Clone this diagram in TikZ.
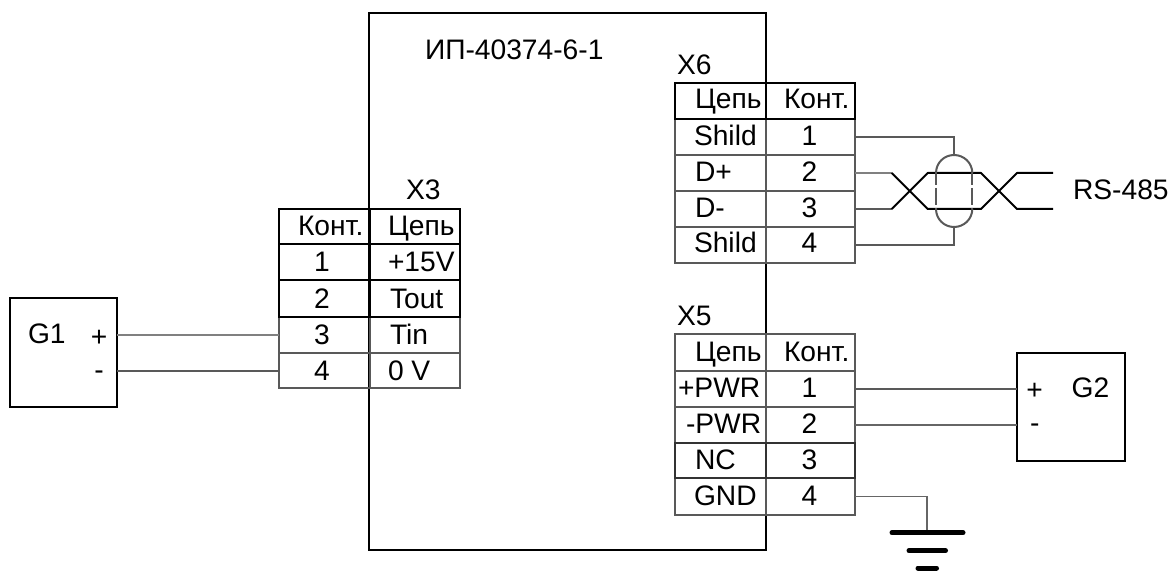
\documentclass[tikz,border=0pt]{standalone}
\usepackage{fontspec}
\setmainfont{Liberation Sans}
\colorlet{wiregray}{black!65}
\colorlet{lightgray2}{black!50}
\newcommand{\cellbox}[6]{%
  \pgfmathsetmacro{\cw}{#5-#3}\pgfmathsetmacro{\ch}{#6-#4}%
  \pgfmathsetmacro{\cx}{(#3+#5)/2}\pgfmathsetmacro{\cy}{(#4+#6)/2}%
  \node[cellbox,draw=#2,minimum width=\cw pt,minimum height=\ch pt] (#1) at (\cx,\cy) {};}
\tikzset{
  x=1pt,y=-1pt,
  cellbox/.style={rectangle,inner sep=0pt,outer sep=0pt,line width=2pt},
  tl/.style={inner sep=0pt,outer sep=0pt,anchor=base west,yshift=-1pt,font=\fontsize{28.2}{30}\selectfont},
  tc/.style={inner sep=0pt,outer sep=0pt,anchor=base,yshift=-1pt,font=\fontsize{28.2}{30}\selectfont},
  devbox/.style={rectangle,draw=black,line width=2pt,inner sep=0pt,outer sep=0pt},
  wire/.style={draw=wiregray,line width=2pt,line join=miter},
  lightwire/.style={draw=lightgray2,line width=1.7pt},
  twist/.style={draw=black,line width=2pt,line join=round},
  gndbar/.style={draw=black,line width=5pt,line cap=round},
}
\begin{document}
\begin{tikzpicture}
\useasboundingbox (0,0) rectangle (1170,572);
% main unit
\node[devbox,minimum width=397pt,minimum height=537pt] (unit) at (567.5,281.5) {};
\node[tl] (unittitle) at (425,59) {ИП-40374-6-1};

% X6 table
\node[tl] (x6t) at (677,74) {X6};
\cellbox{x6s1}{wiregray}{675}{119}{765.5}{155}\cellbox{x6p1}{wiregray}{765.5}{119}{855}{155}
\cellbox{x6s2}{wiregray}{675}{155}{765.5}{191}\cellbox{x6p2}{wiregray}{765.5}{155}{855}{191}
\cellbox{x6s3}{wiregray}{675}{191}{765.5}{227}\cellbox{x6p3}{wiregray}{765.5}{191}{855}{227}
\cellbox{x6s4}{wiregray}{675}{227}{765.5}{262.5}\cellbox{x6p4}{wiregray}{765.5}{227}{855}{262.5}
\cellbox{x6hs}{black}{675}{83}{765.5}{119}\cellbox{x6hp}{black}{765.5}{83}{855}{119}
\node[tl] (x6a0) at (695,108) {Цепь};
\node[tl] (x6b0) at (784,108) {Конт.};
\node[tl] (x6a1) at (694,145) {Shild};
\node[tc] (x6b1) at (809.5,145) {1};
\node[tl] (x6a2) at (695,181) {D+};
\node[tc] (x6b2) at (809.5,181) {2};
\node[tl] (x6a3) at (695,217) {D-};
\node[tc] (x6b3) at (809.5,217) {3};
\node[tl] (x6a4) at (694,252) {Shild};
\node[tc] (x6b4) at (809.5,252) {4};

% X3 table
\node[tl] (x3t) at (406,199) {X3};
\cellbox{x3p3}{wiregray}{279}{316.7}{369.5}{353}\cellbox{x3s3}{wiregray}{369.5}{316.7}{459.5}{353}
\cellbox{x3p4}{wiregray}{279}{353}{369.5}{388}\cellbox{x3s4}{wiregray}{369.5}{353}{459.5}{388}
\cellbox{x3hp}{black}{279}{209}{369.5}{244.5}\cellbox{x3hs}{black}{369.5}{209}{459.5}{244.5}
\cellbox{x3p1}{black}{279}{244.5}{369.5}{280}\cellbox{x3s1}{black}{369.5}{244.5}{459.5}{280}
\cellbox{x3p2}{black}{279}{280}{369.5}{316.7}\cellbox{x3s2}{black}{369.5}{280}{459.5}{316.7}
\node[tl] (x3a0) at (298,235) {Конт.};
\node[tl] (x3b0) at (388,235) {Цепь};
\node[tc] (x3a1) at (322,270) {1};
\node[tl] (x3b1) at (388,270) {+15V};
\node[tc] (x3a2) at (322,307) {2};
\node[tl] (x3b2) at (390,307) {Tout};
\node[tc] (x3a3) at (322,343) {3};
\node[tl] (x3b3) at (390,343) {Tin};
\node[tc] (x3a4) at (322,379) {4};
\node[tl] (x3b4) at (388,379) {0 V};

% X5 table
\node[tl] (x5t) at (677,324) {X5};
\cellbox{x5s1}{wiregray}{675}{370.7}{765.5}{406.7}\cellbox{x5p1}{wiregray}{765.5}{370.7}{855}{406.7}
\cellbox{x5s2}{wiregray}{675}{406.7}{765.5}{442.7}\cellbox{x5p2}{wiregray}{765.5}{406.7}{855}{442.7}
\cellbox{x5s4}{wiregray}{675}{478}{765.5}{515}\cellbox{x5p4}{wiregray}{765.5}{478}{855}{515}
\cellbox{x5hs}{wiregray}{675}{334}{765.5}{370.7}\cellbox{x5hp}{wiregray}{765.5}{334}{855}{370.7}
\cellbox{x5s3}{black!80}{675}{442.7}{765.5}{478}\cellbox{x5p3}{black!80}{765.5}{442.7}{855}{478}
\node[tl] (x5a0) at (695,360) {Цепь};
\node[tl] (x5b0) at (784,360) {Конт.};
\node[tl] (x5a1) at (678,396.7) {+PWR};
\node[tc] (x5b1) at (809.5,396.7) {1};
\node[tl] (x5a2) at (686,432) {-PWR};
\node[tc] (x5b2) at (809.5,432) {2};
\node[tl] (x5a3) at (695,468) {NC};
\node[tc] (x5b3) at (809.5,468) {3};
\node[tl] (x5a4) at (694,504) {GND};
\node[tc] (x5b4) at (809.5,504) {4};

% G1
\node[devbox,minimum width=107.5pt,minimum height=109pt] (g1) at (63.7,352.5) {};
\node[tl] (g1t) at (28,342.7) {G1};
\node[tc] (g1p) at (99,345) {+};
\node[tc] (g1m) at (99,378) {-};
\draw[lightwire] (x3p3.west) -- (x3p3.west -| g1.east);
\draw[wire] (x3p4.west) -- (x3p4.west -| g1.east);

% G2
\node[devbox,minimum width=108pt,minimum height=108pt] (g2) at (1071,406.7) {};
\node[tl] (g2t) at (1071.7,396.7) {G2};
\node[tc] (g2p) at (1034.7,398) {+};
\node[tc] (g2m) at (1034.7,431) {-};
\draw[wire] (x5p1.east) -- (x5p1.east -| g2.west);
\draw[wire,draw=black!60] (x5p2.east) -- (x5p2.east -| g2.west);

% RS-485 twisted pair and shield
\node[tl] (rs) at (1073,199) {RS-485};
\coordinate (capT) at (954,155);
\coordinate (capB) at (954,227);
\coordinate (a1) at (891.7,173);
\coordinate (a2) at (927.7,209);
\coordinate (a3) at (981,209);
\coordinate (a4) at (1017,173);
\coordinate (a5) at (1053,173);
\coordinate (b1) at (891.7,209);
\coordinate (b2) at (927.7,173);
\coordinate (b3) at (981,173);
\coordinate (b4) at (1017,209);
\coordinate (b5) at (1053,209);
\draw[wire] (x6p1.east) -- (x6p1.east -| capT) -- (capT);
\draw[wire] (x6p4.east) -- (x6p4.east -| capB) -- (capB);
\draw[lightwire] (x6p2.east) -- (a1);
\draw[wire] (x6p3.east) -- (b1);
\draw[twist] (a1) -- (a2) -- (a3) -- (a4) -- (a5);
\draw[twist] (b1) -- (b2) -- (b3) -- (b4) -- (b5);
\draw[wire] (936,173) .. controls (936,163) and (944,155) .. (capT) .. controls (964,155) and (972.3,163) .. (972.3,173);
\draw[wire] (936,209) .. controls (936,219) and (944,227) .. (capB) .. controls (964,227) and (972.3,219) .. (972.3,209);
\draw[wire,dash pattern=on 12pt off 3pt on 17pt off 3pt on 1pt] (936,173) -- (936,209);
\draw[wire,dash pattern=on 12pt off 3pt on 17pt off 3pt on 1pt] (972.3,173) -- (972.3,209);

% ground
\coordinate (gnd) at (927.3,532.7);
\draw[lightwire,draw=black!60] (x5p4.east) -- (x5p4.east -| gnd) -- (gnd);
\draw[gndbar] (892,532.7) -- (963,532.7);
\draw[gndbar] (909,550.7) -- (945.5,550.7);
\draw[gndbar] (918,568) -- (936.5,568);
\end{tikzpicture}
\end{document}
